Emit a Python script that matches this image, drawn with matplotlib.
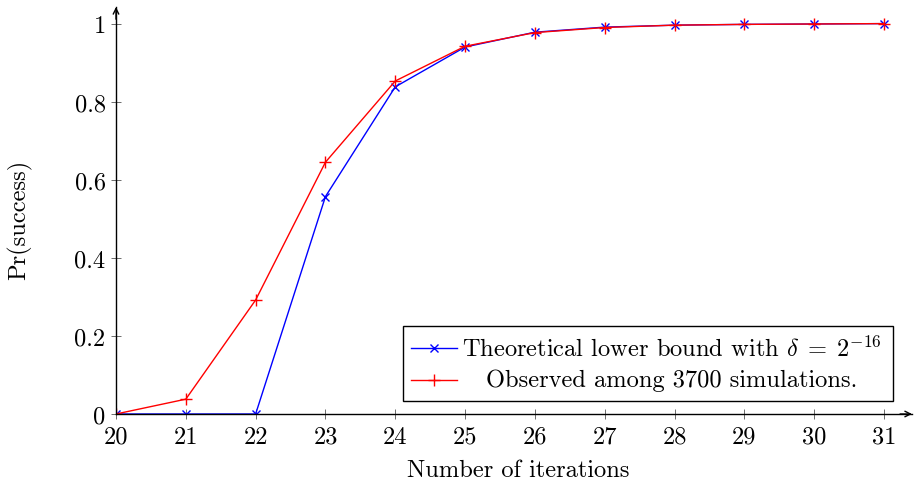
import matplotlib
matplotlib.use("Agg")
import matplotlib.pyplot as plt

plt.rcParams['font.family'] = ['cmr10', 'DejaVu Serif']
plt.rcParams['mathtext.fontset'] = 'cm'
plt.rcParams['axes.formatter.use_mathtext'] = True

iterations = [20, 21, 22, 23, 24, 25, 26, 27, 28, 29, 30, 31]
theoretical = [0.0, 0.0, 0.0, 0.557, 0.838, 0.940, 0.978, 0.991, 0.996, 0.998, 0.999, 1.0]
observed = [0.0, 0.038, 0.292, 0.645, 0.853, 0.942, 0.977, 0.990, 0.996, 0.998, 0.999, 1.0]
yticks = [0, 0.2, 0.4, 0.6, 0.8, 1]
ytick_labels = ["0", "0.2", "0.4", "0.6", "0.8", "1"]
label_theo = r"Theoretical lower bound with $\delta\;=\;2^{-16}$"
label_obs = "Observed among 3700 simulations."

FS = 17.6
W, H = 914, 485
fig = plt.figure(figsize=(W / 100, H / 100), dpi=100)
left, right, bottom, top = 116, 912, 415, 8
ax = fig.add_axes([left / W, 1 - bottom / H, (right - left) / W, (bottom - top) / H])

x_per_px = 11 / 768
ax.set_xlim(20, 20 + (right - left) * x_per_px)
y_per_px = 1 / 390.4
ax.set_ylim(0, (bottom - top) * y_per_px)

ax.plot(iterations, theoretical, color='blue', lw=1.0, marker='x', ms=6, mew=1.0)
ax.plot(iterations, observed, color='red', lw=1.0, marker='+', ms=8, mew=1.0)

ax.spines['top'].set_visible(False)
ax.spines['right'].set_visible(False)
for s in ['left', 'bottom']:
    ax.spines[s].set_linewidth(1.0)

ax.set_xticks(iterations)
ax.set_xticklabels([str(v) for v in iterations])
ax.set_yticks(yticks)
ax.set_yticklabels(ytick_labels)
ax.tick_params(direction='inout', length=7, width=0.6, color='#555555',
               labelsize=FS, pad=4)
ax.tick_params(axis='x', pad=5)

# axis arrows
ax.annotate('', xy=(1.0, 0), xytext=(0.985, 0), xycoords='axes fraction',
            arrowprops=dict(arrowstyle='->', lw=1.0, color='black', shrinkA=0, shrinkB=0))
ax.annotate('', xy=(0, 1.0), xytext=(0, 0.97), xycoords='axes fraction',
            arrowprops=dict(arrowstyle='->', lw=1.0, color='black', shrinkA=0, shrinkB=0))

ax.set_xlabel("Number of iterations", fontsize=FS, va='center')
ax.xaxis.set_label_coords(0.505, (bottom - 471) / (bottom - top))
ax.set_ylabel("Pr(success)", fontsize=FS, va='center')
ax.yaxis.set_label_coords((20 - left) / (right - left), (bottom - 220) / (bottom - top))

# legend drawn in figure pixel coordinates
def fx(px):
    return px / W
def fy(py):
    return 1 - py / H

from matplotlib.patches import Rectangle
box = Rectangle((fx(403), fy(402)), (893 - 403) / W, (402 - 327) / H,
                transform=fig.transFigure, facecolor='white', edgecolor='black', lw=1.0,
                zorder=5)
fig.patches.append(box)
for yy, col, mk, ms, lab in [(349, 'blue', 'x', 6, label_theo), (381, 'red', '+', 8, label_obs)]:
    ln = plt.Line2D([fx(411), fx(457)], [fy(yy), fy(yy)], transform=fig.transFigure,
                    color=col, lw=1.0, zorder=6)
    fig.lines.append(ln)
    mkln = plt.Line2D([fx(434)], [fy(yy)], transform=fig.transFigure, color=col,
                      marker=mk, ms=ms, mew=1.0, zorder=6)
    fig.lines.append(mkln)
    fig.text(fx(672), fy(yy), lab, ha='center', va='center', fontsize=FS, zorder=7)

fig.savefig("out.png", dpi=100)
